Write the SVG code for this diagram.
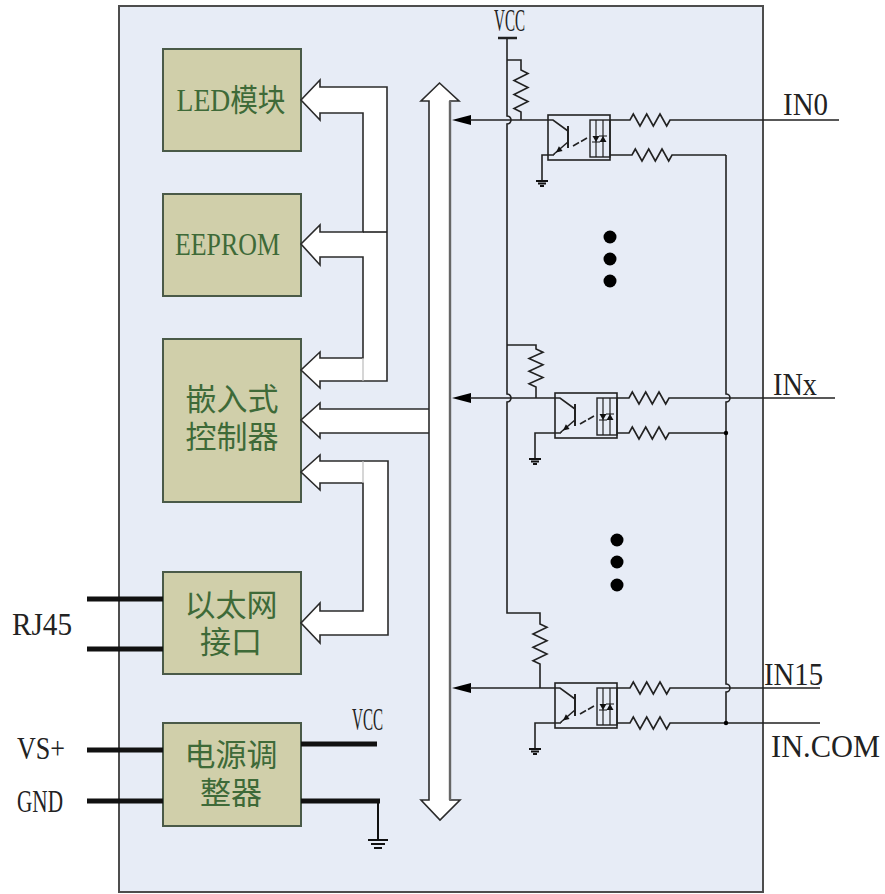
<svg xmlns="http://www.w3.org/2000/svg" xmlns:xlink="http://www.w3.org/1999/xlink" width="885" height="894" viewBox="0 0 885 894">
<style>
.blk{fill:#d0cfaa;stroke:#4a5a48;stroke-width:2}
.lbl{font-family:"Liberation Serif","Noto Sans CJK SC",serif;fill:#3e6a38;font-size:31px;text-anchor:middle}
.ser{font-family:"Liberation Serif",serif;fill:#222;font-size:32px}
.w{stroke:#222;stroke-width:1.6;fill:none}
.hol{fill:#fff;stroke:#2b2b2b;stroke-width:1.6;stroke-linejoin:miter}
.thick{stroke:#111;stroke-width:5;fill:none}
.dot{fill:#000}
</style>
<defs>
<g id="opto">
<rect x="0" y="0" width="62" height="45" fill="none" stroke="#222" stroke-width="1.6"/>
<path d="M0,5 H5 L20,16" class="w"/>
<path d="M20,11 V33" stroke="#222" stroke-width="2" fill="none"/>
<path d="M20,27 L6,39 V40" class="w"/>
<polygon points="8,37.4 14.6,36.1 10.9,31.3" fill="#111"/>
<path d="M25,31 l6,-3.5 M33,26.5 l6,-3.5" class="w"/>
<rect x="42" y="5" width="20" height="37" fill="none" stroke="#222" stroke-width="1.4"/>
<path d="M48,5 V42 M55,5 V42" stroke="#222" stroke-width="1.2" fill="none"/>
<polygon points="44.5,21 51.5,21 48,27" fill="#111"/>
<polygon points="51.5,27 58.5,27 55,21" fill="#111"/>
<path d="M44,27 H52 M51,21 H59" stroke="#111" stroke-width="1.2"/>
</g>
<g id="gnd">
<path d="M-6,0 H6 M-4,2.5 H4 M-2,5 H2" stroke="#111" stroke-width="1.8" fill="none"/>
</g>
</defs>

<g id="frame">
<rect x="119" y="6" width="644" height="886" fill="#e7ecf6" stroke="#4d4d4d" stroke-width="2"/>
</g>

<g id="led">
<rect class="blk" x="163" y="49" width="138" height="102"/>
<text class="lbl" x="231" y="111" font-size="30" textLength="109" lengthAdjust="spacingAndGlyphs">LED模块</text>
</g>
<g id="eeprom">
<rect class="blk" x="163" y="194" width="138" height="102"/>
<text class="lbl" x="227.5" y="255" font-size="32" textLength="105" lengthAdjust="spacingAndGlyphs">EEPROM</text>
</g>
<g id="mcu">
<rect class="blk" x="163" y="339" width="138" height="163"/>
<text class="lbl" x="232" y="410">嵌入式</text>
<text class="lbl" x="232" y="448">控制器</text>
</g>
<g id="eth">
<rect class="blk" x="163" y="572" width="138" height="102"/>
<text class="lbl" x="231" y="616">以太网</text>
<text class="lbl" x="231" y="653">接口</text>
</g>
<g id="power">
<rect class="blk" x="163" y="723" width="138" height="103"/>
<text class="lbl" x="231" y="766">电源调</text>
<text class="lbl" x="231" y="804">整器</text>
</g>

<g id="connectors">
<!-- hollow block arrows -->
<path class="hol" d="M301,100 L320,80 L320,87 L387,87 L387,381 L320,381 L320,388 L301,370 L320,352 L320,358 L363,358 L363,257 L320,257 L320,265 L301,244 L320,225 L320,232 L363,232 L363,113 L320,113 L320,120 Z"/>
<path d="M363,232 H387" class="w"/>
<path d="M363,358 V381" stroke="#bbb" stroke-width="1.2"/>
<path class="hol" d="M301,472 L320,455 L320,461 L388,461 L388,635 L320,635 L320,643 L301,623 L320,603 L320,611 L363,611 L363,483 L320,483 L320,490 Z"/>
<path d="M363,461 V483" stroke="#bbb" stroke-width="1.2"/>
<path d="M431,409 L320,409 L320,403 L301,420 L320,438 L320,433 L431,433 Z" fill="#fff"/>
<path d="M429,409 L320,409 L320,403 L301,420 L320,438 L320,433 L429,433" class="hol" fill="none"/>

<!-- external thick lines -->
<path class="thick" d="M87,599 H163 M87,649 H163 M87,750 H163 M87,801 H163 M301,744 H377 M301,801 H380"/>
<path d="M378,801 V840" stroke="#111" stroke-width="2"/>
<path d="M368,840 H388 M371,844 H385 M374,848 H382" stroke="#111" stroke-width="2"/>

<!-- VCC rail -->
<path d="M498,38 H517" stroke="#222" stroke-width="2.5"/>
<path class="w" d="M507,38 V116 A4,4 0 0 1 507,124 V394 A4,4 0 0 1 507,402 V613 H540 V624 L547,627.3 L533,634 L547,640.7 L533,647.3 L547,654 L533,660.7 L540,664 V688"/>
<path class="w" d="M507,60 H521 V70 L528,73.5 L514,80.5 L528,87.5 L514,94.5 L528,101.5 L514,108.5 L521,112 V120"/>
<path class="w" d="M507,345 H536 V349 L543,352.2 L529,358.5 L543,364.8 L529,371.2 L543,377.5 L529,383.8 L536,387 V398"/>

<!-- IN0 -->
<polygon points="452,120 471,115 471,125" fill="#000"/>
<path class="w" d="M470,120 H548"/>
<path class="w" d="M610,120 H630 L633.3,114 L640,126 L646.7,114 L653.3,126 L660,114 L666.7,126 L670,120 H839"/>
<path class="w" d="M610,155 H632 L635.3,149 L642,161 L648.7,149 L655.3,161 L662,149 L668.7,161 L672,155 H726"/>
<path class="w" d="M554,155 H542 V181"/>
<use xlink:href="#gnd" href="#gnd" x="542" y="181"/>

<!-- INx -->
<polygon points="452,398 471,393 471,403" fill="#000"/>
<path class="w" d="M470,398 H555"/>
<path class="w" d="M617,398 H629 L632.3,392 L639,404 L645.7,392 L652.3,404 L659,392 L665.7,404 L669,398 H835"/>
<path class="w" d="M617,433 H629 L632.3,427 L639,439 L645.7,427 L652.3,439 L659,427 L665.7,439 L669,433 H726"/>
<path class="w" d="M561,433 H535 V459"/>
<use xlink:href="#gnd" href="#gnd" x="535" y="459"/>

<!-- IN15 -->
<polygon points="452,688 471,683 471,693" fill="#000"/>
<path class="w" d="M470,688 H555"/>
<path class="w" d="M617,688 H630 L633.3,682 L640,694 L646.7,682 L653.3,694 L660,682 L666.7,694 L670,688 H820"/>
<path class="w" d="M617,723 H630 L633.3,717 L640,729 L646.7,717 L653.3,729 L660,717 L666.7,729 L670,723 H820"/>
<path class="w" d="M561,723 H535 V749"/>
<use xlink:href="#gnd" href="#gnd" x="535" y="749"/>

<!-- common return -->
<path class="w" d="M726,155 V394 A4,4 0 0 1 726,402 V684 A4,4 0 0 1 726,692 V723"/>
<circle cx="726" cy="433" r="2.2" class="dot"/>
<circle cx="726" cy="723" r="2.2" class="dot"/>

<!-- ellipsis dots -->
<circle cx="610" cy="237" r="6.5" class="dot"/>
<circle cx="610" cy="259" r="6.5" class="dot"/>
<circle cx="610" cy="281" r="6.5" class="dot"/>
<circle cx="617" cy="540" r="6.5" class="dot"/>
<circle cx="617" cy="562" r="6.5" class="dot"/>
<circle cx="617" cy="585" r="6.5" class="dot"/>
</g>

<g id="bus">
<path class="hol" d="M439.5,83 L459,101 L450,101 L450,800 L460,800 L440,820 L421,800 L429,800 L429,101 L421,101 Z"/>
<path d="M450,101 V800" stroke="#666" stroke-width="2.4"/>
</g>

<g id="opto0"><use xlink:href="#opto" href="#opto" x="548" y="115"/></g>
<g id="optox"><use xlink:href="#opto" href="#opto" x="555" y="393"/></g>
<g id="opto15"><use xlink:href="#opto" href="#opto" x="555" y="683"/></g>

<g id="labels">
<text class="ser" x="494" y="31" font-size="19" textLength="31" lengthAdjust="spacingAndGlyphs">VCC</text>
<text class="ser" x="352" y="730" font-size="19" textLength="31" lengthAdjust="spacingAndGlyphs">VCC</text>
<text class="ser" x="783" y="115" textLength="45" lengthAdjust="spacingAndGlyphs">IN0</text>
<text class="ser" x="773" y="395" textLength="44" lengthAdjust="spacingAndGlyphs">INx</text>
<text class="ser" x="764" y="685" textLength="59" lengthAdjust="spacingAndGlyphs">IN15</text>
<text class="ser" x="771" y="757" textLength="109" lengthAdjust="spacingAndGlyphs">IN.COM</text>
<text class="ser" x="12" y="635" textLength="60" lengthAdjust="spacingAndGlyphs">RJ45</text>
<text class="ser" x="17" y="759" font-size="29" textLength="48" lengthAdjust="spacingAndGlyphs">VS+</text>
<text class="ser" x="17" y="812" font-size="29" textLength="46" lengthAdjust="spacingAndGlyphs">GND</text>
</g>
</svg>
